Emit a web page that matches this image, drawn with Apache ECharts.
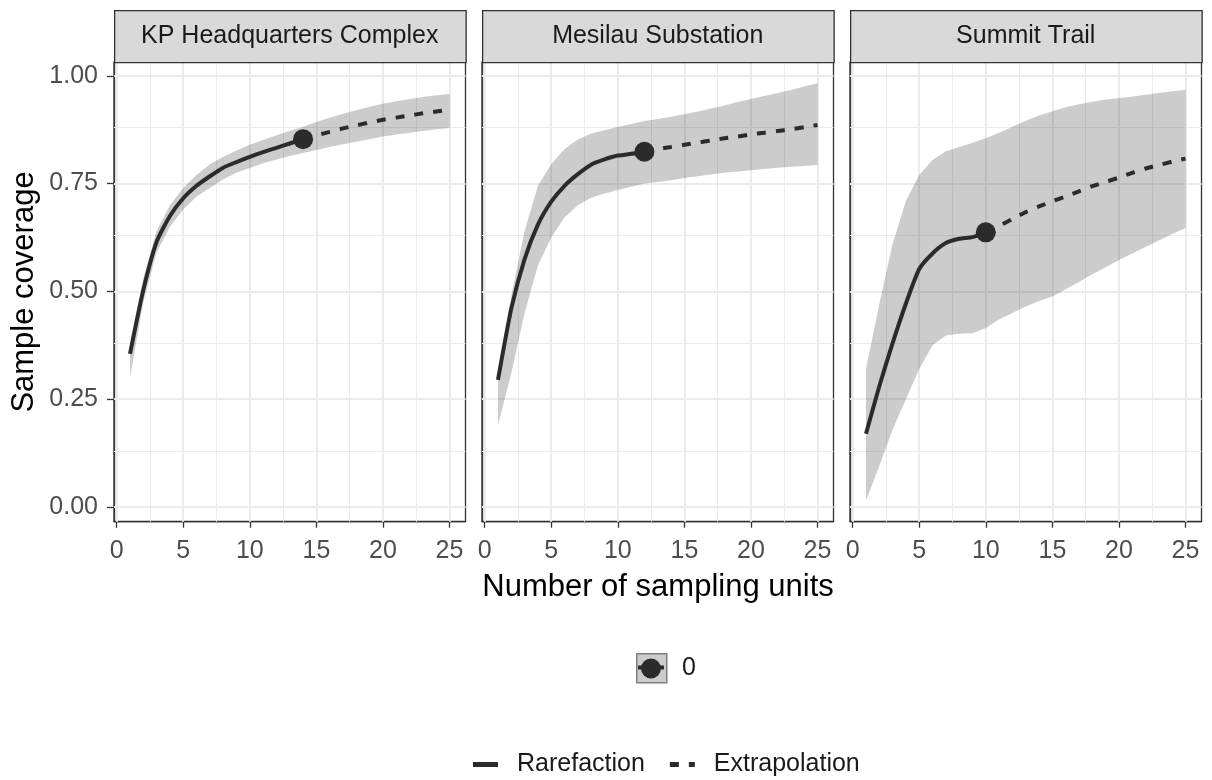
<!DOCTYPE html>
<html>
<head>
<meta charset="UTF-8">
<script src="https://cdn.jsdelivr.net/npm/echarts@6/dist/echarts.min.js" type="text/javascript"></script>
<title>Sample coverage</title>
<style>html,body{margin:0;padding:0;background:#fff;}</style>
</head>
<body>
<div id="main" style="width:1212px;height:780px;"></div>
<script type="text/javascript">
// facet titles
var sites = ['KP Headquarters Complex', 'Mesilau Substation', 'Summit Trail'];
// number of sampling units used for the bands
var units = [1,2,3,4,5,6,7,8,9,10,11,12,13,14,15,16,17,18,19,20,21,22,23,24,25];
// observed number of units per site
var observed = [14, 12, 10];
var xTicks = [0, 5, 10, 15, 20, 25];
var yTicks = [0, 0.25, 0.5, 0.75, 1];

// KP Headquarters Complex
var kpRare = [0.355,0.503,0.615,0.675,0.716,0.745,0.767,0.787,0.800,0.812,0.823,0.833,0.843,0.853];
var kpExtra = [0.853,0.862,0.870,0.878,0.885,0.892,0.898,0.903,0.908,0.913,0.917,0.921];
var kpLow = [0.30,0.475,0.59,0.65,0.69,0.72,0.74,0.76,0.775,0.786,0.797,0.806,0.814,0.821,0.828,0.835,0.841,0.847,0.853,0.859,0.864,0.868,0.872,0.876,0.879];
var kpHigh = [0.38,0.53,0.64,0.70,0.74,0.77,0.795,0.812,0.827,0.840,0.851,0.862,0.872,0.882,0.893,0.903,0.912,0.920,0.928,0.935,0.941,0.946,0.951,0.955,0.958];

// Mesilau Substation
var msRare = [0.295,0.46,0.575,0.655,0.708,0.745,0.772,0.794,0.806,0.815,0.819,0.824];
var msExtra = [0.824,0.830,0.835,0.840,0.845,0.850,0.855,0.859,0.864,0.868,0.872,0.876,0.881,0.886];
var msLow = [0.19,0.31,0.45,0.56,0.625,0.672,0.70,0.717,0.727,0.735,0.743,0.750,0.754,0.758,0.763,0.767,0.771,0.775,0.778,0.781,0.784,0.787,0.789,0.791,0.793];
var msHigh = [0.31,0.49,0.64,0.745,0.795,0.83,0.852,0.866,0.874,0.881,0.888,0.895,0.900,0.905,0.911,0.917,0.924,0.931,0.939,0.946,0.953,0.960,0.967,0.975,0.983];

// Summit Trail
var stRare = [0.17,0.28,0.38,0.472,0.552,0.588,0.612,0.622,0.626,0.637];
var stExtra = [0.637,0.652,0.668,0.684,0.697,0.709,0.720,0.732,0.744,0.754,0.764,0.775,0.785,0.793,0.801,0.808];
var stLow = [0.015,0.095,0.18,0.25,0.32,0.375,0.398,0.402,0.403,0.415,0.435,0.45,0.465,0.478,0.488,0.505,0.522,0.54,0.556,0.573,0.588,0.603,0.618,0.633,0.647];
var stHigh = [0.32,0.47,0.61,0.71,0.77,0.805,0.825,0.835,0.845,0.855,0.868,0.882,0.896,0.908,0.918,0.927,0.934,0.94,0.945,0.948,0.952,0.956,0.96,0.964,0.967];

var rareList = [kpRare, msRare, stRare];
var extraList = [kpExtra, msExtra, stExtra];
var lowList = [kpLow, msLow, stLow];
var highList = [kpHigh, msHigh, stHigh];

var font = "'Liberation Sans', Arial, sans-serif";
var lineColor = '#2b2b2b';
var lefts = [114, 482, 850];
var gridW = 351.5, gridTop = 62, gridH = 459.7;

var myChart = echarts.init(document.getElementById('main'));

var grids = [], xAxes = [], yAxes = [], series = [], graphics = [];

// grey lines, major and minor
var vLines = [], hLines = [];
[0, 2.5, 5, 7.5, 10, 12.5, 15, 17.5, 20, 22.5, 25].forEach(function (v) {
    vLines.push({ xAxis: v, lineStyle: { width: v % 5 === 0 ? 2 : 1 } });
});
[0, 0.125, 0.25, 0.375, 0.5, 0.625, 0.75, 0.875, 1].forEach(function (v) {
    hLines.push({ yAxis: v, lineStyle: { width: (v * 4) % 1 === 0 ? 2 : 1 } });
});

for (var i = 0; i < 3; i++) {
    grids.push({
        left: lefts[i], top: gridTop, width: gridW, height: gridH,
        show: true, backgroundColor: '#fff', borderColor: '#333', borderWidth: 1.3
    });
    xAxes.push({
        gridIndex: i, type: 'value', min: -0.2, max: 26.2,
        splitLine: { show: false },
        axisLine: { show: true, onZero: false, lineStyle: { color: '#333', width: 1.3 } },
        axisTick: { show: true, length: 6, customValues: xTicks, lineStyle: { color: '#333', width: 1.3 } },
        axisLabel: { customValues: xTicks, color: '#4D4D4D', fontSize: 25, fontFamily: font, margin: 17 }
    });
    yAxes.push({
        gridIndex: i, type: 'value', min: -0.034, max: 1.032,
        splitLine: { show: false },
        axisLine: { show: true, onZero: false, lineStyle: { color: '#333', width: 1.3 } },
        axisTick: { show: i === 0, length: 7, customValues: yTicks, lineStyle: { color: '#333', width: 1.3 } },
        axisLabel: {
            show: i === 0, customValues: yTicks, color: '#4D4D4D', fontSize: 25, fontFamily: font, margin: 16,
            formatter: function (v) { return v.toFixed(2); }
        }
    });

    var rare = rareList[i], extra = extraList[i];
    var rareData = [], extraData = [];
    for (var j = 0; j < rare.length; j++) rareData.push([units[j], rare[j]]);
    for (var k = 0; k < extra.length; k++) extraData.push([observed[i] + k, extra[k]]);

    // confidence band
    (function (lo, hi) {
        series.push({
            type: 'custom', name: 'band', xAxisIndex: i, yAxisIndex: i, z: 2, silent: true,
            data: [[units[0], lo[0]]],
            renderItem: function (params, api) {
                var pts = [];
                for (var a = 0; a < units.length; a++) pts.push(api.coord([units[a], hi[a]]));
                for (var b = units.length - 1; b >= 0; b--) pts.push(api.coord([units[b], lo[b]]));
                return { type: 'polygon', shape: { points: pts }, style: { fill: 'rgba(0,0,0,0.2)' } };
            }
        });
    })(lowList[i], highList[i]);

    series.push({
        type: 'line', name: 'Rarefaction', xAxisIndex: i, yAxisIndex: i, z: 3,
        data: rareData, symbol: 'none', showSymbol: false, smooth: 0.2,
        lineStyle: { color: lineColor, width: 4 }, itemStyle: { color: lineColor },
        markLine: {
            z: 1, silent: true, symbol: 'none', label: { show: false }, animation: false,
            lineStyle: { color: '#EBEBEB', type: 'solid' },
            data: vLines.concat(hLines)
        }
    });
    series.push({
        type: 'line', name: 'Extrapolation', xAxisIndex: i, yAxisIndex: i, z: 3,
        data: extraData, symbol: 'none', showSymbol: false, smooth: 0.2,
        lineStyle: { color: lineColor, width: 4, type: [9, 10] }, itemStyle: { color: lineColor }
    });
    series.push({
        type: 'scatter', name: '0', xAxisIndex: i, yAxisIndex: i, z: 4,
        data: [[observed[i], rare[rare.length - 1]]], symbolSize: 20,
        itemStyle: { color: lineColor, opacity: 1 }
    });

    // strip header
    graphics.push({
        type: 'rect', left: lefts[i], top: 10, z: 10,
        shape: { width: gridW, height: 52 },
        style: { fill: '#D9D9D9', stroke: '#333', lineWidth: 1.3 }
    });
    graphics.push({
        type: 'text', x: lefts[i] + gridW / 2, y: 36, z: 11,
        style: { text: sites[i], fill: '#1A1A1A', font: '25px ' + font, textAlign: 'center', textVerticalAlign: 'middle' }
    });
}

// axis titles
graphics.push({
    type: 'text', x: 24, y: 292, rotation: Math.PI / 2, z: 11,
    style: { text: 'Sample coverage', fill: '#000', font: '31px ' + font, textAlign: 'center', textVerticalAlign: 'middle' }
});
graphics.push({
    type: 'text', x: 658, y: 587, z: 11,
    style: { text: 'Number of sampling units', fill: '#000', font: '31px ' + font, textAlign: 'center', textVerticalAlign: 'middle' }
});
// key box behind the point legend
graphics.push({
    type: 'rect', left: 636, top: 653, z: 0,
    shape: { width: 30, height: 29 },
    style: { fill: '#CCCCCC', stroke: '#7F7F7F', lineWidth: 1.5 }
});
graphics.push({
    type: 'line', z: 1,
    shape: { x1: 638, y1: 667.5, x2: 664, y2: 667.5 },
    style: { stroke: lineColor, lineWidth: 4 }
});

var option = {
    backgroundColor: '#fff',
    animation: false,
    grid: grids,
    xAxis: xAxes,
    yAxis: yAxes,
    legend: [{
        data: ['0'], left: 641, top: 656, padding: 0, icon: 'circle', itemWidth: 20, itemHeight: 20,
        selectedMode: false, itemStyle: { opacity: 1 },
        textStyle: { fontSize: 25, color: '#1A1A1A', fontFamily: font, padding: [0, 0, 0, 16] }
    }, {
        data: [
            { name: 'Rarefaction', icon: 'rect' },
            { name: 'Extrapolation', icon: 'path://M0,0H9V5H0Z M19,0H25V5H19Z' }
        ],
        left: 473, top: 752, padding: 0, itemWidth: 25, itemHeight: 5,
        itemGap: 25, selectedMode: false,
        textStyle: { fontSize: 25, color: '#1A1A1A', fontFamily: font, padding: [0, 0, 0, 14] }
    }],
    graphic: graphics,
    series: series
};

myChart.setOption(option);
</script>
</body>
</html>
